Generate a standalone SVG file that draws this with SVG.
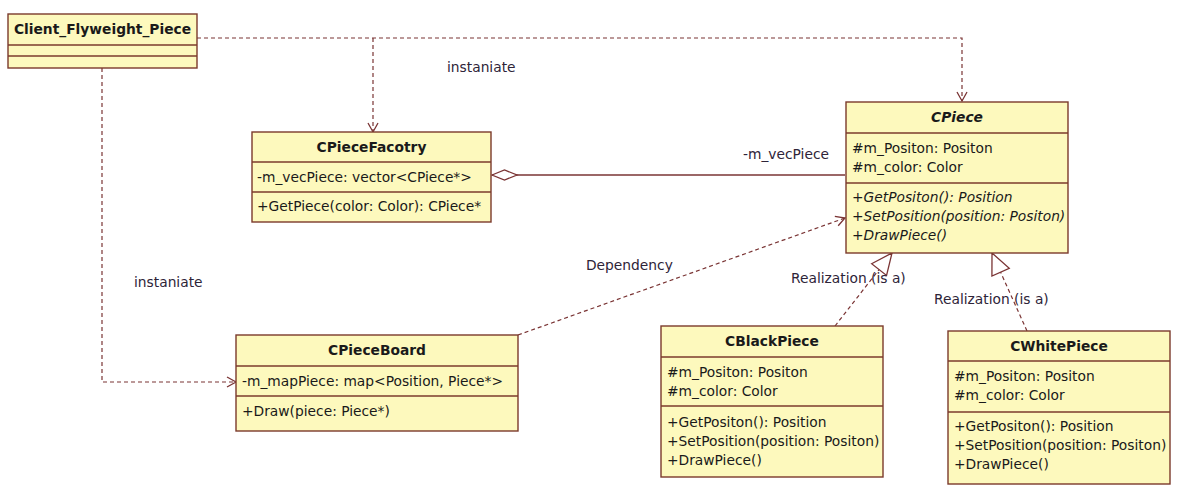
<svg xmlns="http://www.w3.org/2000/svg" width="1179" height="494" viewBox="0 0 1179 494">
<style>
.box{fill:#fdf9bd;stroke:#7b3a2c;stroke-width:1.4}
.div{stroke:#7b3a2c;stroke-width:1.4}
.t{font-family:"DejaVu Sans",Verdana,sans-serif;font-size:13.8px;fill:#1a1a1a}
.ti{font-weight:bold;text-anchor:middle}
.it{font-style:italic}
.lbl{font-family:"DejaVu Sans",Verdana,sans-serif;font-size:13.8px;fill:#2e2438}
.dash{fill:none;stroke:#7a3434;stroke-width:1.2;stroke-dasharray:4 3}
.solid{fill:none;stroke:#7a3434;stroke-width:1.3}
</style>
<defs>
<marker id="open" markerUnits="userSpaceOnUse" markerWidth="12" markerHeight="12" refX="9" refY="5" orient="auto" overflow="visible">
<path d="M0,0 L9,5 L0,10" fill="none" stroke="#7a3434" stroke-width="1.3"/>
</marker>
<marker id="tri" markerUnits="userSpaceOnUse" markerWidth="24" markerHeight="22" refX="21" refY="9.5" orient="auto" overflow="visible">
<path d="M0,0 L21,9.5 L0,19 Z" fill="#fff" stroke="#7a3434" stroke-width="1.3"/>
</marker>
<marker id="dia" markerUnits="userSpaceOnUse" markerWidth="28" markerHeight="12" refX="0" refY="5" orient="auto" overflow="visible">
<path d="M0,5 L12.5,0 L25,5 L12.5,10 Z" fill="#fff" stroke="#7a3434" stroke-width="1.3"/>
</marker>
</defs>
<rect width="1179" height="494" fill="#fff"/>

<g id="connectors">
<path class="dash" d="M197,38 H962 V101" marker-end="url(#open)"/>
<path class="dash" d="M373,38 V132" marker-end="url(#open)"/>
<path class="dash" d="M102,68 V382 H236" marker-end="url(#open)"/>
<path class="dash" d="M518,335 L845,218" marker-end="url(#open)"/>
<path class="solid" d="M492,175 H845" marker-start="url(#dia)"/>
<path class="dash" d="M835,326 L892,253" marker-end="url(#tri)"/>
<path class="dash" d="M1027,331 L992,253" marker-end="url(#tri)"/>
<text class="lbl" x="447" y="72">instaniate</text>
<text class="lbl" x="134" y="287">instaniate</text>
<text class="lbl" x="743" y="159">-m_vecPiece</text>
<text class="lbl" x="586" y="270">Dependency</text>
<text class="lbl" x="791" y="283">Realization (is a)</text>
<text class="lbl" x="934" y="304">Realization (is a)</text>
</g>

<g id="Client_Flyweight_Piece">
<rect class="box" x="8" y="14" width="189" height="54"/>
<line class="div" x1="8" y1="45" x2="197" y2="45"/>
<line class="div" x1="8" y1="56" x2="197" y2="56"/>
<text class="t ti" x="102.5" y="34">Client_Flyweight_Piece</text>
</g>

<g id="CPieceFacotry">
<rect class="box" x="252" y="132" width="239" height="90"/>
<line class="div" x1="252" y1="162" x2="491" y2="162"/>
<line class="div" x1="252" y1="192" x2="491" y2="192"/>
<text class="t ti" x="371.5" y="152">CPieceFacotry</text>
<text class="t" x="257" y="182">-m_vecPiece: vector&lt;CPiece*&gt;</text>
<text class="t" x="257" y="211">+GetPiece(color: Color): CPiece*</text>
</g>

<g id="CPiece">
<rect class="box" x="846" y="102" width="222" height="151"/>
<line class="div" x1="846" y1="133" x2="1068" y2="133"/>
<line class="div" x1="846" y1="183" x2="1068" y2="183"/>
<text class="t ti it" x="957" y="122">CPiece</text>
<text class="t" x="852" y="153">#m_Positon: Positon</text>
<text class="t" x="852" y="172">#m_color: Color</text>
<text class="t it" x="852" y="202">+GetPositon(): Position</text>
<text class="t it" x="852" y="221">+SetPosition(position: Positon)</text>
<text class="t it" x="852" y="240">+DrawPiece()</text>
</g>

<g id="CPieceBoard">
<rect class="box" x="236" y="335" width="282" height="96"/>
<line class="div" x1="236" y1="366" x2="518" y2="366"/>
<line class="div" x1="236" y1="396" x2="518" y2="396"/>
<text class="t ti" x="377" y="355">CPieceBoard</text>
<text class="t" x="242" y="386">-m_mapPiece: map&lt;Position, Piece*&gt;</text>
<text class="t" x="242" y="416">+Draw(piece: Piece*)</text>
</g>

<g id="CBlackPiece">
<rect class="box" x="661" y="326" width="222" height="151"/>
<line class="div" x1="661" y1="357" x2="883" y2="357"/>
<line class="div" x1="661" y1="406" x2="883" y2="406"/>
<text class="t ti" x="772" y="346">CBlackPiece</text>
<text class="t" x="667" y="377">#m_Positon: Positon</text>
<text class="t" x="667" y="396">#m_color: Color</text>
<text class="t" x="667" y="427">+GetPositon(): Position</text>
<text class="t" x="667" y="446">+SetPosition(position: Positon)</text>
<text class="t" x="667" y="465">+DrawPiece()</text>
</g>

<g id="CWhitePiece">
<rect class="box" x="948" y="331" width="222" height="153"/>
<line class="div" x1="948" y1="361" x2="1170" y2="361"/>
<line class="div" x1="948" y1="412" x2="1170" y2="412"/>
<text class="t ti" x="1059" y="351">CWhitePiece</text>
<text class="t" x="954" y="381">#m_Positon: Positon</text>
<text class="t" x="954" y="400">#m_color: Color</text>
<text class="t" x="954" y="431">+GetPositon(): Position</text>
<text class="t" x="954" y="450">+SetPosition(position: Positon)</text>
<text class="t" x="954" y="469">+DrawPiece()</text>
</g>
</svg>
